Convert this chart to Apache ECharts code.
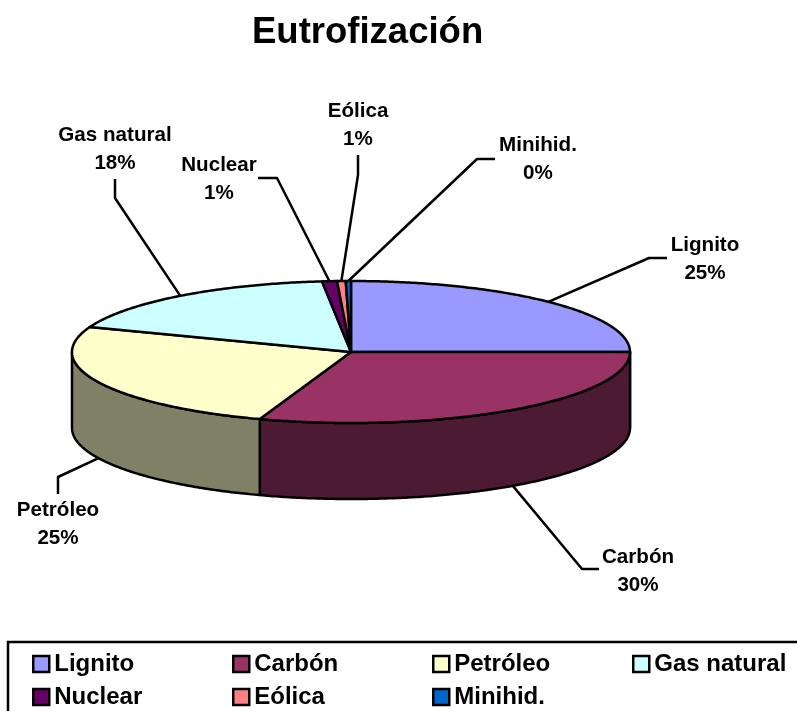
<!DOCTYPE html>
<html>
<head>
<meta charset="utf-8">
<title>Eutrofización</title>
<style>
  html, body { margin: 0; padding: 0; background: #fff; }
  #chart { width: 797px; height: 711px; }
</style>
<script src="https://cdn.jsdelivr.net/npm/echarts@6/dist/echarts.min.js"></script>
</head>
<body>
<div id="chart"></div>
<script>
const categories = ['Lignito', 'Carbón', 'Petróleo', 'Gas natural', 'Nuclear', 'Eólica', 'Minihid.']
const values = [25, 30.3, 25.4, 17.64, 0.86, 0.5, 0.3]
const topColors = ['#9999FF', '#993366', '#FFFFCC', '#CCFFFF', '#660066', '#FF8080', '#0066CC']
const sideColors = ['#4D4D80', '#4D1A33', '#808066', '#668080', '#330033', '#804040', '#003366']

// label centre and the elbow of each leader line
const labelPos = [[705, 259], [638, 571], [58, 524], [115, 149], [219, 179], [358, 125], [538, 159]]
const elbows = [
  [[667, 258], [649, 258]],
  [[599, 569], [582, 569]],
  [[58, 494], [58, 477]],
  [[115, 179], [115, 198]],
  [[258, 178], [277, 178]],
  [[358, 155], [358, 175]],
  [[495, 159], [477, 159]]
]
const legendPos = [[32, 652], [232, 652], [432, 652], [632, 652], [32, 685], [232, 685], [432, 685]]

const CX = 351, CY = 352, RX = 279, RY = 71, DEPTH = 76
const FONT = '"Liberation Sans", Arial, sans-serif'
const total = values.reduce((a, b) => a + b, 0)

function pt(t, dy) {
  return [CX + RX * Math.sin(t), CY - RY * Math.cos(t) + (dy || 0)]
}

function arc(t0, t1, dy) {
  const n = Math.max(2, Math.ceil(Math.abs(t1 - t0) / 0.01))
  const pts = []
  for (let i = 0; i <= n; i++) pts.push(pt(t0 + (t1 - t0) * i / n, dy))
  return pts
}

let acc = 0
const slices = values.map(v => {
  const t0 = acc / total * Math.PI * 2
  acc += v
  return [t0, acc / total * Math.PI * 2]
})

function renderSlice(index) {
  const [t0, t1] = slices[index]
  const mid = (t0 + t1) / 2
  const children = []
  const line = { stroke: '#000', lineWidth: 2.5, lineJoin: 'round' }

  // outer wall, only the front half of the disc shows it
  const a = Math.max(t0, Math.PI / 2)
  const b = Math.min(t1, Math.PI * 1.5)
  if (b > a) {
    children.push({
      type: 'polygon',
      shape: { points: arc(a, b, 0).concat(arc(b, a, DEPTH)) },
      style: { fill: sideColors[index], ...line }
    })
  }

  children.push({
    type: 'polygon',
    shape: { points: [[CX, CY]].concat(arc(t0, t1, 0)) },
    style: { fill: topColors[index], ...line }
  })

  const onWall = mid > Math.PI / 2 && mid < Math.PI * 1.5
  children.push({
    type: 'polyline',
    shape: { points: [pt(mid, onWall ? DEPTH : 0), elbows[index][1], elbows[index][0]] },
    style: { fill: null, ...line }
  })

  children.push({
    type: 'text',
    style: {
      x: labelPos[index][0],
      y: labelPos[index][1],
      text: categories[index] + '\n' + Math.round(values[index]) + '%',
      align: 'center',
      verticalAlign: 'middle',
      fill: '#000',
      font: 'bold 20.6px ' + FONT,
      lineHeight: 28
    }
  })
  return { type: 'group', children }
}

const chart = echarts.init(document.getElementById('chart'))
chart.setOption({
  animation: false,
  backgroundColor: '#fff',
  title: {
    text: 'Eutrofización',
    left: 252,
    top: 14,
    padding: 0,
    textStyle: { fontFamily: FONT, fontWeight: 'bold', fontSize: 36.5, color: '#000' }
  },
  legend: categories.map((name, i) => ({
    data: [name],
    left: legendPos[i][0],
    top: legendPos[i][1],
    padding: 0,
    selectedMode: false,
    icon: 'rect',
    itemWidth: 16,
    itemHeight: 16,
    itemStyle: { color: topColors[i], borderColor: '#000', borderWidth: 2.5 },
    textStyle: { fontFamily: FONT, fontWeight: 'bold', fontSize: 24, color: '#000' }
  })),
  graphic: [{
    type: 'rect',
    shape: { x: 8, y: 642, width: 900, height: 200 },
    style: { fill: 'none', stroke: '#000', lineWidth: 2.5 },
    silent: true
  }],
  series: categories.map((name, i) => ({
    type: 'custom',
    name,
    coordinateSystem: 'none',
    itemStyle: { color: topColors[i] },
    data: [values[i]],
    renderItem: () => renderSlice(i)
  }))
})
</script>
</body>
</html>
